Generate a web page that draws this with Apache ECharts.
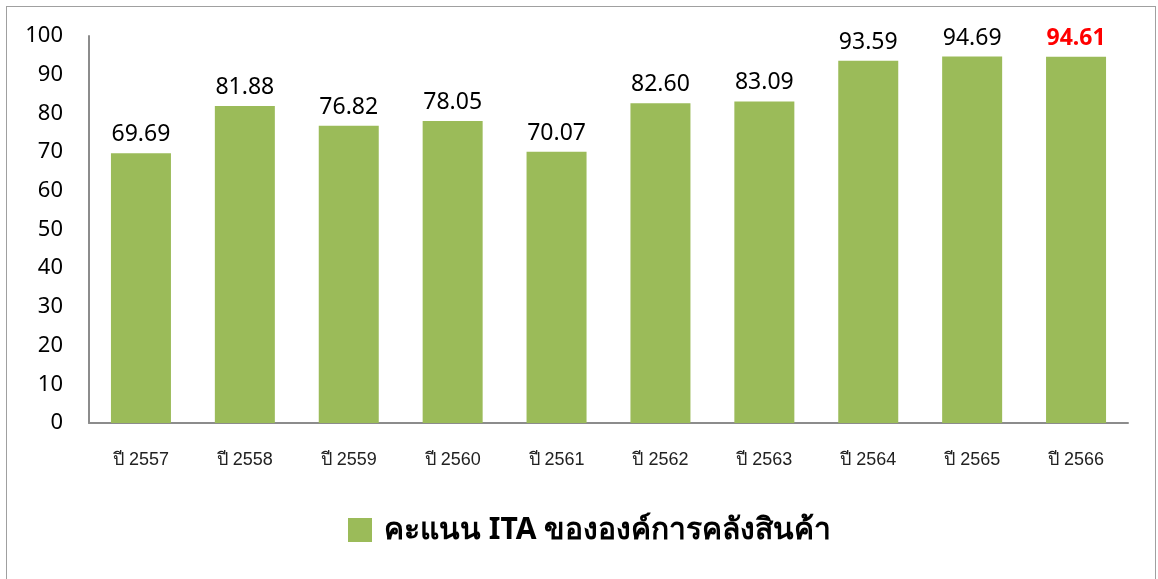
<!DOCTYPE html>
<html>
<head>
<meta charset="utf-8">
<script src="https://cdn.jsdelivr.net/npm/echarts@6/dist/echarts.min.js"></script>
<style>
  html, body { margin: 0; padding: 0; background: #fff; }
  #frame { position: absolute; left: 6px; top: 6px; width: 1150px; height: 580px; border: 1px solid #a0a0a0; box-sizing: border-box; }
  #chart { position: absolute; left: 0; top: 0; width: 1158px; height: 579px; }
</style>
</head>
<body>
<div id="frame"></div>
<div id="chart"></div>
<script>
var years = ['ปี 2557', 'ปี 2558', 'ปี 2559', 'ปี 2560', 'ปี 2561', 'ปี 2562', 'ปี 2563', 'ปี 2564', 'ปี 2565', 'ปี 2566'];
var scores = [69.69, 81.88, 76.82, 78.05, 70.07, 82.60, 83.09, 93.59, 94.69, 94.61];
var seriesName = 'คะแนน ITA ขององค์การคลังสินค้า';

var chart = echarts.init(document.getElementById('chart'));

// last year gets the red bold label
var barData = scores.map(function (v, i) {
    var item = { value: v };
    if (i === scores.length - 1) {
        item.label = { color: '#ff0000', fontWeight: 'bold' };
    }
    return item;
});

chart.setOption({
    backgroundColor: 'transparent',
    animation: false,
    grid: { left: 89, right: 30, top: 36, bottom: 156 },
    legend: {
        bottom: 29,
        left: 343,
        itemWidth: 24,
        itemHeight: 24,
        itemGap: 10,
        icon: 'rect',
        textStyle: { fontSize: 30, fontWeight: 'bold', color: '#000', fontFamily: 'Noto Sans, sans-serif', padding: [0, 0, 0, 7] }
    },
    xAxis: {
        type: 'category',
        data: years,
        axisLine: { lineStyle: { color: '#8c8c8c', width: 2 } },
        axisTick: { show: false },
        axisLabel: { fontSize: 18, color: '#222', margin: 28, fontFamily: 'Liberation Sans, Noto Sans, sans-serif' }
    },
    yAxis: {
        type: 'value',
        min: 0,
        max: 100,
        interval: 10,
        axisLine: { show: true, lineStyle: { color: '#8c8c8c', width: 2 } },
        axisTick: { show: false },
        splitLine: { show: false },
        axisLabel: { fontSize: 22, color: '#000', margin: 26, fontFamily: 'Noto Sans, sans-serif' }
    },
    series: [{
        name: seriesName,
        type: 'bar',
        data: barData,
        barWidth: 60,
        itemStyle: { color: '#9bbb59' },
        label: {
            show: true,
            position: 'top',
            distance: 7,
            fontSize: 23,
            color: '#000',
            fontFamily: 'Noto Sans, sans-serif',
            formatter: function (p) { return p.value.toFixed(2); }
        }
    }]
});
</script>
</body>
</html>
